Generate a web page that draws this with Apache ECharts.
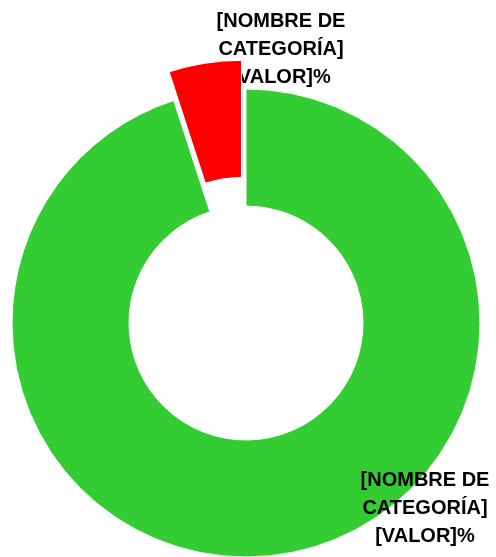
<!DOCTYPE html>
<html>
<head>
<meta charset="utf-8">
<script src="https://cdn.jsdelivr.net/npm/echarts@6/dist/echarts.min.js"></script>
<style>
  html, body { margin: 0; padding: 0; background: #fff; }
  #chart { width: 496px; height: 557px; }
</style>
</head>
<body>
<div id="chart"></div>
<script>
// datos del gráfico
var categorias = ['Categoría A', 'Categoría B'];
var valores = [95, 5];
var colores = ['#33CC33', '#FF0000'];
var etiquetas = ['[NOMBRE DE\nCATEGORÍA]\n[VALOR]%', '[NOMBRE DE\nCATEGORÍA]\n[VALOR]%'];

var fuente = {
    fontFamily: 'Liberation Sans',
    fontWeight: 'bold',
    fontSize: 20,
    lineHeight: 28,
    color: '#000'
};

var datos = valores.map(function (v, i) {
    return {
        value: v,
        name: categorias[i],
        selected: i === 1,
        itemStyle: { color: colores[i] }
    };
});
// la etiqueta de la porción separada se dibuja aparte (el estado "select" ignora labelLayout)
datos[1].label = { show: false };

var option = {
    animation: false,
    graphic: [{
        type: 'text',
        x: 281,
        y: 49,
        style: {
            text: etiquetas[1],
            fill: fuente.color,
            font: 'bold 20px "Liberation Sans"',
            lineHeight: fuente.lineHeight,
            align: 'center',
            verticalAlign: 'middle'
        }
    }],
    series: [{
        type: 'pie',
        center: [246, 323],
        radius: [117, 234],
        startAngle: 90,
        clockwise: true,
        selectedMode: 'single',
        selectedOffset: 29,
        avoidLabelOverlap: false,
        itemStyle: { borderColor: '#fff', borderWidth: 1 },
        emphasis: { scale: false },
        label: Object.assign({
            show: true,
            position: 'outside',
            formatter: function (p) { return etiquetas[p.dataIndex]; },
            align: 'center'
        }, fuente),
        labelLine: { show: false },
        labelLayout: function (p) {
            if (p.dataIndex !== 0) return;
            return { x: 425, y: 508, align: 'center', verticalAlign: 'middle' };
        },
        data: datos
    }]
};
echarts.init(document.getElementById('chart')).setOption(option);
</script>
</body>
</html>
